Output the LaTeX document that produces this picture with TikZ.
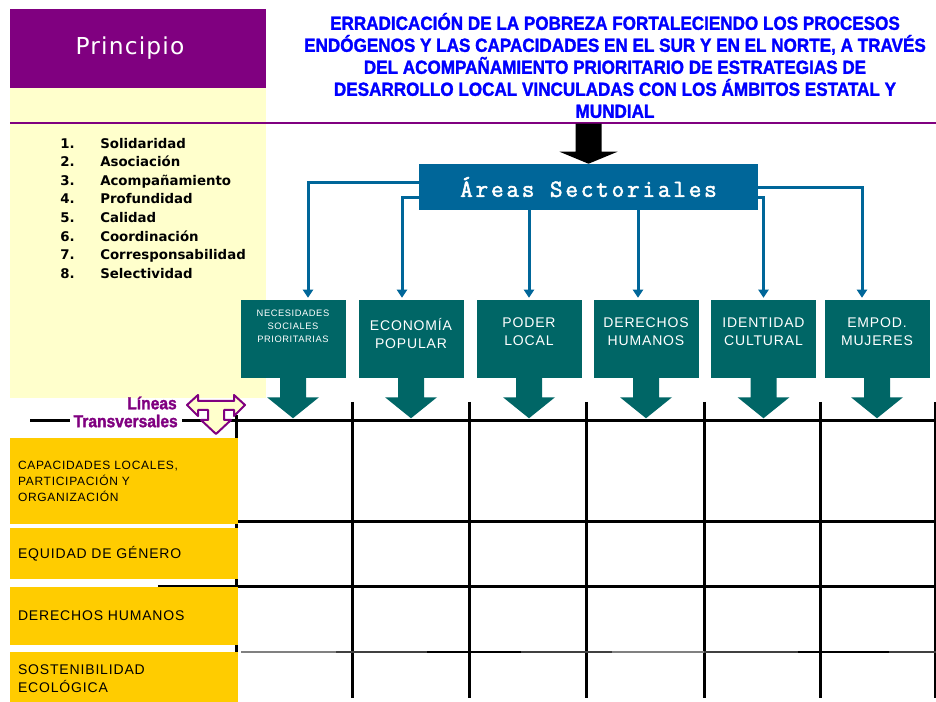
\documentclass[tikz,border=0pt]{standalone}
\usepackage{fontspec}
\newfontfamily\titlefont[FakeStretch=0.9,FakeBold=1.5]{Liberation Sans}
\newfontfamily\listfont{DejaVu Sans}
\newfontfamily\headfont[LetterSpace=5]{DejaVu Sans}
\newfontfamily\capsfont[LetterSpace=6]{Liberation Sans}
\newfontfamily\areafont[LetterSpace=11,FakeBold=2]{Latin Modern Mono}
\usetikzlibrary{arrows.meta,calc,positioning}

\begin{document}
\begin{tikzpicture}[x=0.75pt,y=-0.75pt,
  rejilla/.style={line width=2.25pt},
  sector/.style={fill=verde,minimum width=78.75pt,minimum height=58.5pt,inner sep=0pt},
  rotulo/.style={anchor=north,inner sep=0pt,text=white,align=center,execute at begin node=\vphantom{Í}},
  rotulogrande/.style={font=\capsfont\fontsize{10.5}{13.5}\selectfont,yshift=-13.5pt},
  rotulochico/.style={font=\capsfont\fontsize{7}{9.75}\selectfont,yshift=-7.3pt},
  eje/.style={fill=amarillo,minimum width=171pt,text width=159pt,align=left,inner sep=0pt,font=\capsfont\fontsize{10.5}{13.5}\selectfont},
  con/.style={draw=azul,line width=2.25pt,shorten >=1.5pt,-{Triangle[length=6pt,width=7.5pt]}}]
\definecolor{morado}{HTML}{800080} \definecolor{crema}{HTML}{FFFFCC}
\definecolor{verde}{HTML}{006666} \definecolor{azul}{HTML}{006699}
\definecolor{amarillo}{HTML}{FFCC00} \colorlet{titulo}{blue}
\useasboundingbox (0,0) rectangle (936,702);
\fill[white] (0,0) rectangle (936,702);
% columna de principios
\node[fill=crema,minimum width=192pt,minimum height=232.5pt,inner sep=0pt] (panel) at (138,243) {};
\node[fill=morado,minimum width=192pt,minimum height=59.25pt,text=white,font=\headfont\fontsize{17.5}{20}\selectfont] (principio) at (138,48.5) {Principio\hspace*{12pt}};
\draw[morado,line width=1.5pt] (10,123) -- (936,123);
\foreach \n/\t in {1/Solidaridad,2/Asociación,3/Acompañamiento,4/Profundidad,5/Calidad,6/Coordinación,7/Corresponsabilidad,8/Selectividad}{
  \node[anchor=base west,inner sep=0pt,font=\listfont\bfseries\fontsize{10}{12}\selectfont] (n\n) at (60,129.6+18.6*\n) {\n.};
  \node[anchor=base west,inner sep=0pt,font=\listfont\bfseries\fontsize{10}{12}\selectfont] (p\n) at (100,129.6+18.6*\n) {\t};
}
% titulo y areas
\node[text=titulo,align=center,font=\titlefont\bfseries\fontsize{14.25}{16.5}\selectfont] (lema) at (615,65.5)
  {ERRADICACIÓN DE LA POBREZA FORTALECIENDO LOS PROCESOS\\ENDÓGENOS Y LAS CAPACIDADES EN EL SUR Y EN EL NORTE, A TRAVÉS\\DEL ACOMPAÑAMIENTO PRIORITARIO DE ESTRATEGIAS DE\\DESARROLLO LOCAL VINCULADAS CON LOS ÁMBITOS ESTATAL Y\\MUNDIAL};
\node[fill=azul,minimum width=254.25pt,minimum height=34.5pt,text=white,font=\areafont\fontsize{18.5}{20}\selectfont] (areas) at (588.5,187) {Áreas Sectoriales};
\fill[black] ($(areas.north)+(-13,-40)$) -- ++(0,28) -- ++(-16,0) -- ++(29,12) -- ++(29,-12) -- ++(-16,0) -- ++(0,-28) -- cycle;
% rejilla
\foreach \x in {352,469,586,704,820,935}
  \draw[rejilla] (\x,402) -- (\x,698);
\draw[rejilla] (236,415) -- (236,700);
\draw[rejilla] (30,421) -- (936,421);
\draw[rejilla] (236,521) -- (936,521);
\draw[rejilla] (158,586) -- (936,586);
\foreach \xa/\xb/\c in {241/336/gray,336/427/darkgray,427/521/black,521/612/darkgray,612/704/gray,704/798/darkgray,798/889/black,889/936/darkgray}
  \draw[line width=2pt,\c] (\xa,652) -- (\xb,652);
% areas sectoriales
\foreach \i/\x/\estilo/\texto in {1/293/rotulochico/{NECESIDADES\\SOCIALES\\PRIORITARIAS},2/411/rotulogrande/{ECONOMÍA\\POPULAR},3/529/rotulogrande/{PODER\\LOCAL},4/646/rotulogrande/{DERECHOS\\HUMANOS},5/763.5/rotulogrande/{IDENTIDAD\\CULTURAL},6/877/rotulogrande/{EMPOD.\\MUJERES}}{
  \node[sector] (s\i) at (\x,339) {};
  \node[rotulo,\estilo] (r\i) at (s\i.north) {\texto};
  \fill[verde] ($(s\i.south)+(-13,-1)$) -- ++(0,20) -- ++(-13,0) -- ++(26,21) -- ++(26,-21) -- ++(-13,0) -- ++(0,-20) -- cycle;
}
\draw[con] ([yshift=3pt]areas.west) -| ([xshift=11.25pt]s1.north);
\draw[con] ([yshift=-8.25pt]areas.west) -| ([xshift=-6.75pt]s2.north);
\draw[con] (s3.north |- areas.south) -- (s3.north);
\draw[con] ([xshift=-6pt]s4.north |- areas.south) -- ([xshift=-6pt]s4.north);
\draw[con] ([yshift=-8.25pt]areas.east) -| (s5.north);
\draw[con] ([yshift=-0.75pt]areas.east) -| ([xshift=-11.25pt]s6.north);
% lineas transversales
\node[anchor=east,text=morado,fill=white,inner xsep=3pt,inner ysep=0.5pt,font=\titlefont\bfseries\fontsize{13}{14}\selectfont] (transversales) at (182,421) {Transversales};
\node[anchor=east,text=morado,inner sep=0pt,font=\titlefont\bfseries\fontsize{13}{14}\selectfont] (lineas) at (177,403) {Líneas};
\filldraw[fill=crema,draw=morado,line width=1.5pt,line join=round] (187,405) -- (198,395) -- (198,401) -- (234,401) -- (234,395) -- (245,405) -- (234,416) -- (234,410) -- (224,410) -- (224,420) -- (231,420) -- (216,434) -- (201,420) -- (208,420) -- (208,410) -- (198,410) -- (198,416) -- cycle;
\node[eje,minimum height=64.5pt,font=\capsfont\fontsize{9}{12}\selectfont] (t1) at (124,481) {CAPACIDADES LOCALES,\\PARTICIPACIÓN Y\\ORGANIZACIÓN};
\node[eje,minimum height=38.25pt] (t2) at (124,553.5) {EQUIDAD DE GÉNERO};
\node[eje,minimum height=43.5pt] (t3) at (124,616) {DERECHOS HUMANOS};
\node[eje,minimum height=40.5pt] (t4) at (124,679) {SOSTENIBILIDAD\\ECOLÓGICA};
\end{tikzpicture}
\end{document}
